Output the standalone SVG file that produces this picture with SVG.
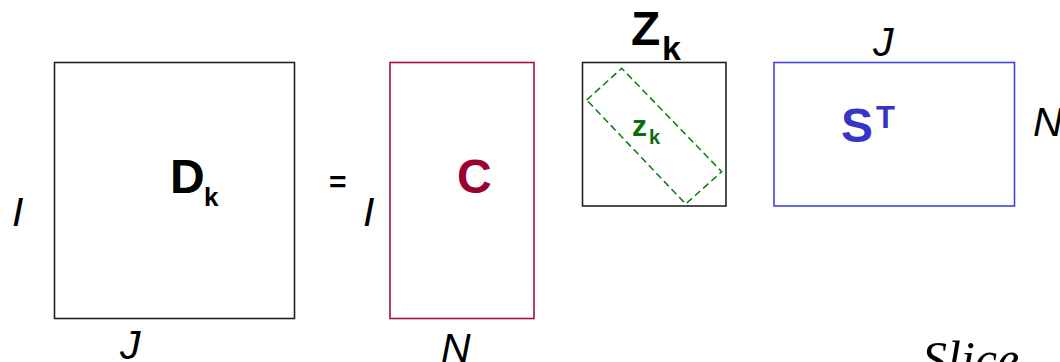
<svg xmlns="http://www.w3.org/2000/svg" width="1060" height="362" viewBox="0 0 1060 362">
<style>
.box{fill:#fff;stroke-width:1.6}
.lbl{font-family:"Liberation Sans",Arial,sans-serif;font-weight:bold}
.dim{font-family:"Liberation Sans",Arial,sans-serif;font-style:italic;font-size:41px;fill:#000}
</style>
<rect width="1060" height="362" fill="#fff"/>
<g id="D">
<rect class="box" x="54.5" y="62.5" width="240" height="256" stroke="#222"/>
<text class="lbl" x="170" y="192.5" font-size="48">D</text>
<text class="lbl" x="204" y="205.5" font-size="26">k</text>
<text class="dim" x="12" y="225.5">I</text>
<text class="dim" x="120" y="359">J</text>
</g>
<g id="eq">
<text class="lbl" x="329" y="192" font-size="30">=</text>
</g>
<g id="C">
<rect class="box" x="390" y="62.5" width="144" height="256" stroke="#a3103f"/>
<text class="lbl" x="457" y="192.5" font-size="48" fill="#990033">C</text>
<text class="dim" x="363" y="225.5">I</text>
<text class="dim" x="441" y="362">N</text>
</g>
<g id="Z">
<rect class="box" x="582.5" y="62.5" width="143.5" height="143.5" stroke="#222"/>
<text class="lbl" x="631" y="45" font-size="48">Z</text>
<text class="lbl" x="662" y="60" font-size="34">k</text>
<polygon points="586.7,100 621.7,68.3 721.7,171.7 685.7,204" fill="none" stroke="#0a7a0a" stroke-width="1.5" stroke-dasharray="7,4"/>
<text class="lbl" x="632" y="135.5" font-size="30" fill="#0a6e0a">z</text>
<text class="lbl" x="649" y="143.5" font-size="20" fill="#0a6e0a">k</text>
</g>
<g id="ST">
<rect class="box" x="774" y="62.5" width="240.5" height="143.5" stroke="#4444dd"/>
<text class="lbl" x="841" y="141.5" font-size="48" fill="#3535c8">S</text>
<text class="lbl" x="876" y="127.5" font-size="31" fill="#3535c8">T</text>
<text class="dim" x="873" y="56">J</text>
<text class="dim" x="1033" y="136">N</text>
</g>
<text x="922" y="376" font-family="Liberation Serif,'Times New Roman',serif" font-style="italic" font-size="50" fill="#000">Slice</text>
</svg>
